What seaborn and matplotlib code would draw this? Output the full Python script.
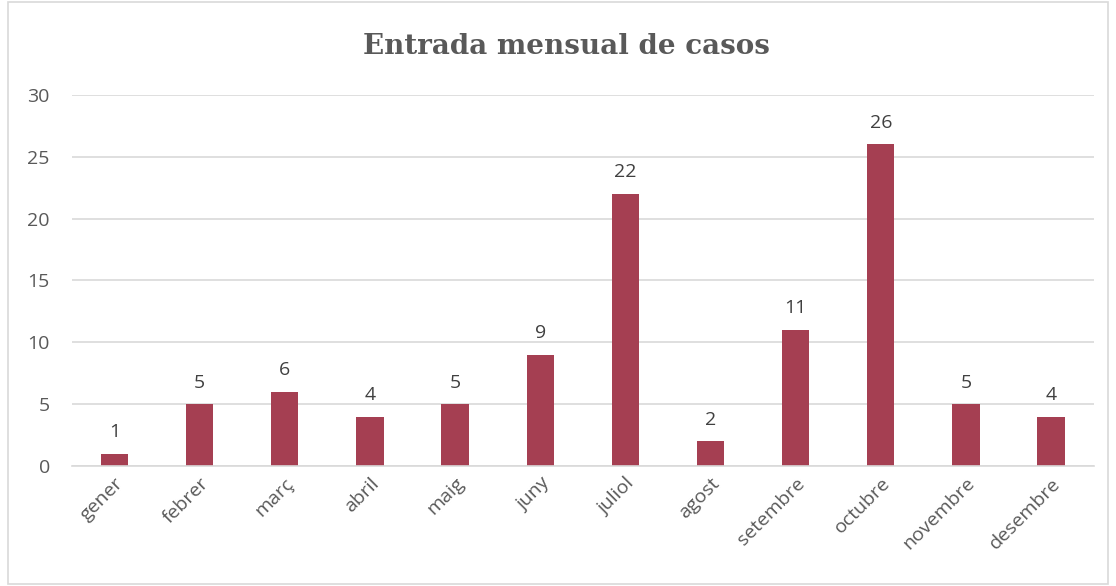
import matplotlib
matplotlib.use("Agg")
import pandas as pd
import seaborn as sns
from matplotlib import pyplot as plt
from matplotlib.patches import Rectangle

months = ["gener", "febrer", "març", "abril", "maig", "juny", "juliol",
          "agost", "setembre", "octubre", "novembre", "desembre"]
cases = [1, 5, 6, 4, 5, 9, 22, 2, 11, 26, 5, 4]
y_ticks = [0, 5, 10, 15, 20, 25, 30]

BAR_COLOR = "#A53F52"
TEXT_COLOR = "#595959"

sns.set_theme(style="white")
plt.rcParams["font.family"] = ["Open Sans", "DejaVu Sans"]

df = pd.DataFrame({"month": months, "cases": cases})

fig = plt.figure(figsize=(11.16, 5.86), dpi=100)
ax = fig.add_axes([0.0645, 0.2048, 0.9155, 0.6332])

sns.barplot(data=df, x="month", y="cases", color=BAR_COLOR, width=0.32,
            saturation=1, linewidth=0, ax=ax)

for container in ax.containers:
    ax.bar_label(container, padding=9, fontsize=14, color="#404040")

ax.set_ylim(0, 30)
ax.set_yticks(y_ticks)
ax.set_xlim(-0.5, len(months) - 0.5)
ax.yaxis.grid(True, color="#D9D9D9", linewidth=1.2)
ax.set_axisbelow(True)
for side in ["top", "right", "left"]:
    ax.spines[side].set_visible(False)
ax.spines["bottom"].set_color("#D9D9D9")
ax.spines["bottom"].set_linewidth(1.2)
ax.tick_params(axis="both", length=0, labelsize=14, colors=TEXT_COLOR)
ax.tick_params(axis="y", pad=16)
ax.tick_params(axis="x", pad=6)
plt.setp(ax.get_xticklabels(), rotation=45, ha="right", rotation_mode="anchor")
ax.set_xlabel("")
ax.set_ylabel("")

fig.text(0.5075, 0.921, "Entrada mensual de casos", ha="center", va="center",
         fontsize=20, fontweight="bold", color=TEXT_COLOR,
         family=["DejaVu Serif"])

fig.patches.append(Rectangle((0.007, 0.004), 0.986, 0.992, transform=fig.transFigure,
                             fill=False, edgecolor="#D9D9D9", linewidth=1.2))

fig.savefig("out.png", dpi=100)
